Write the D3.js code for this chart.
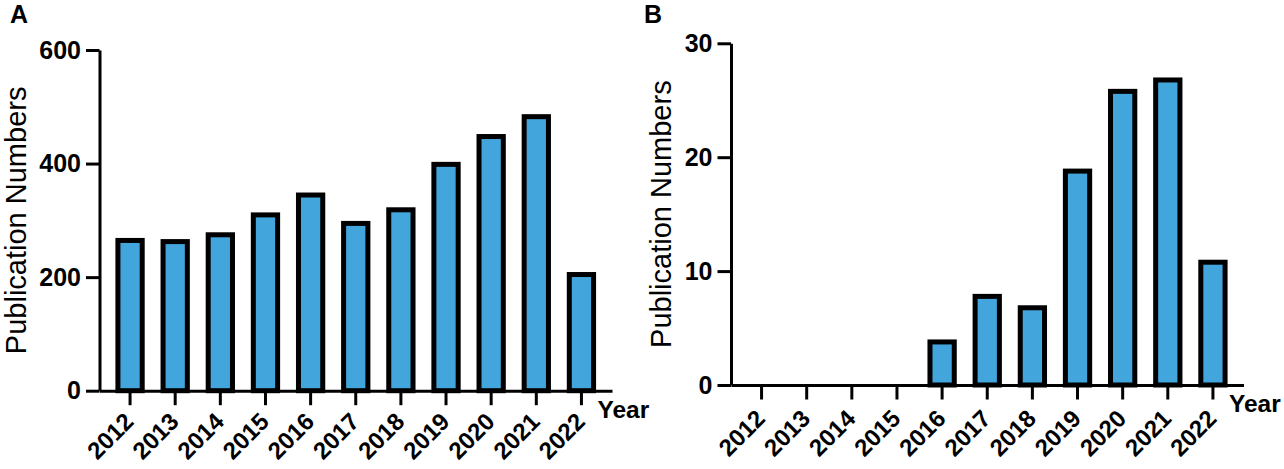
<!DOCTYPE html>
<html>
<head>
<meta charset="utf-8">
<script src="https://cdn.jsdelivr.net/npm/d3@7"></script>
<style>
  body { margin: 0; background: #fff; }
  svg { display: block; }
  text { font-family: "Liberation Sans", Arial, sans-serif; }
</style>
</head>
<body>
<div class="board"></div>
<script>
// data
const years = ['2012', '2013', '2014', '2015', '2016', '2017', '2018', '2019', '2020', '2021', '2022'];
const pubsA = [269, 267, 279, 314, 349, 299, 323, 403, 452, 487, 209];
const pubsB = [0, 0, 0, 0, 4, 8, 7, 19, 26, 27, 11];
const ticksA = [0, 200, 400, 600];
const ticksB = [0, 10, 20, 30];

const svg = d3.select('.board').append('svg')
  .attr('width', 1284)
  .attr('height', 469);

function drawPanel(letter, values, yMax, yTicks, left, top, bottom, letterX, titleX, labelY) {
  const right = left + 512.5;
  const g = svg.append('g');

  const x = d3.scaleBand()
    .domain(years)
    .range([left, right])
    .paddingInner(0.462)
    .paddingOuter(0.408);

  const y = d3.scaleLinear()
    .domain([0, yMax])
    .range([bottom, top]);

  // bars, black border drawn inside the value
  const sw = 5;
  g.selectAll('rect')
    .data(values.map((v, i) => ({ year: years[i], v: v })).filter(d => d.v > 0))
    .join('rect')
    .attr('x', d => x(d.year))
    .attr('width', x.bandwidth())
    .attr('y', d => y(d.v) + sw / 2)
    .attr('height', d => y(0) - y(d.v) - sw / 2)
    .attr('fill', '#42a5dc')
    .attr('stroke', '#000')
    .attr('stroke-width', sw);

  // y axis
  const yAxis = g.append('g')
    .attr('transform', `translate(${left},0)`)
    .call(d3.axisLeft(y).tickValues(yTicks).tickSize(13.5).tickSizeOuter(0).tickPadding(5));

  // x axis
  const xAxis = g.append('g')
    .attr('transform', `translate(0,${bottom})`)
    .call(d3.axisBottom(x).tickSize(14.5).tickSizeOuter(0).tickFormat(() => ''));

  [yAxis, xAxis].forEach(a => {
    a.select('.domain').attr('stroke', '#000').attr('stroke-width', 3);
    a.selectAll('.tick line').attr('stroke', '#000').attr('stroke-width', 3);
  });

  yAxis.selectAll('.tick text')
    .attr('font-size', 25)
    .attr('font-weight', 'bold')
    .attr('fill', '#000')
    .attr('font-family', '"Liberation Sans", Arial, sans-serif');

  // rotated year labels
  g.selectAll('.year')
    .data(years)
    .join('text')
    .attr('class', 'year')
    .attr('transform', d => `translate(${x(d) + x.bandwidth() / 2 + 5},${labelY}) rotate(-45)`)
    .attr('text-anchor', 'end')
    .attr('font-size', 24)
    .attr('font-weight', 'bold')
    .text(d => d);

  g.append('text')
    .attr('x', right - 14.5)
    .attr('y', bottom + 27)
    .attr('font-size', 24.5)
    .attr('font-weight', 'bold')
    .text('Year');

  g.append('text')
    .attr('transform', `translate(${titleX},${(top + bottom) / 2}) rotate(-90)`)
    .attr('text-anchor', 'middle')
    .attr('font-size', 29)
    .text('Publication Numbers');

  g.append('text')
    .attr('x', letterX)
    .attr('y', 23)
    .attr('font-size', 25)
    .attr('font-weight', 'bold')
    .text(letter);
}

drawPanel('A', pubsA, 600, ticksA, 99.5, 50, 390.7, 10, 26, 423);
drawPanel('B', pubsB, 30, ticksB, 731, 43.3, 385, 644, 671, 420);
</script>
</body>
</html>
